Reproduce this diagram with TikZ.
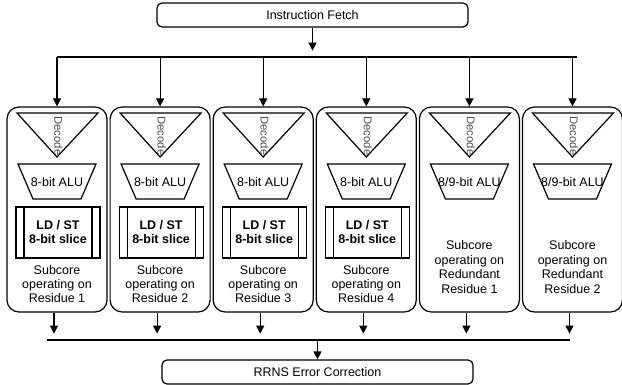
\documentclass[tikz,border=0pt]{standalone}
\usepackage{fontspec}
\setmainfont{Liberation Sans}
\usetikzlibrary{arrows.meta,calc}
\begin{document}
\begin{tikzpicture}[x=1pt,y=-1pt,line width=1.2pt,
  arr/.style={-{Triangle[length=8pt,width=8pt]}},
  txt/.style={font=\fontsize{12.5}{14.4}\selectfont,align=center,inner sep=0pt},
  bigbox/.style={draw,rounded corners=5pt,minimum width=311pt,minimum height=24pt,txt},
  subcore/.style={draw,rounded corners=12pt,minimum width=100pt,minimum height=205pt,inner sep=0pt},
  dectext/.style={font=\fontsize{11.3}{12}\selectfont,text=black!70,rotate=-90,inner sep=0pt},
  ldst/.style={font=\bfseries\fontsize{12.5}{14.4}\selectfont,align=center,inner sep=0pt}]
\useasboundingbox (0,0) rectangle (622,385);

\node[bigbox] (fetch) at (312.5,15) {Instruction Fetch};
\node[bigbox] (rrns) at (317.5,372) {RRNS Error Correction};

\foreach \i/\c/\alu in {1/57/{8-bit ALU},2/160.1/{8-bit ALU},3/263.2/{8-bit ALU},4/366.3/{8-bit ALU},5/469.4/{8/9-bit ALU},6/572.5/{8/9-bit ALU}}{
  \node[subcore] (sc\i) at (\c,209.5) {};
  % decode triangle
  \draw (\c-40,113) -- (\c+41,113) -- (\c,157) -- cycle;
  \node[dectext] (dec\i) at (\c+1.5,136) {Decode};
  % ALU trapezoid
  \draw (\c-39,164) -- (\c+39,164) -- (\c+24,199) -- (\c-24,199) -- cycle;
  \node[txt] (alu\i) at (\c,182) {\alu};
}
\foreach \i/\c in {1/57,2/160.1,3/263.2,4/366.3}{
  \draw (\c-41,207) rectangle (\c+43,258);
  \draw (\c-33,207) -- (\c-33,258) (\c+35,207) -- (\c+35,258);
  \node[ldst] (ls\i) at (\c+1,232) {LD / ST\\8-bit slice};
  \node[txt] (lab\i) at (\c,284) {Subcore\\operating on\\Residue \i};
}
\node[txt] (lab5) at (469.4,267) {Subcore\\operating on\\Redundant\\Residue 1};
\node[txt] (lab6) at (572.5,267) {Subcore\\operating on\\Redundant\\Residue 2};

% top distribution
\coordinate (tl) at (57,57);
\coordinate (tr) at (577,57);
\draw[arr] (fetch.south) -- ($(fetch.south)+(0,23)$);
\draw (tl) -- (tr);
\foreach \i in {1,...,6}{
  \draw[arr] (sc\i.north |- tl) -- (sc\i.north);
}
% bottom collection
\coordinate (bl) at (47,340);
\coordinate (br) at (570,340);
\foreach \i in {1,...,6}{
  \draw[arr] ($(sc\i.south)+(-3,0)$) -- ($(sc\i.south)+(-3,21)$);
}
\draw (bl) -- (br);
\draw[arr] (rrns.north |- bl) -- (rrns.north);
\end{tikzpicture}
\end{document}
